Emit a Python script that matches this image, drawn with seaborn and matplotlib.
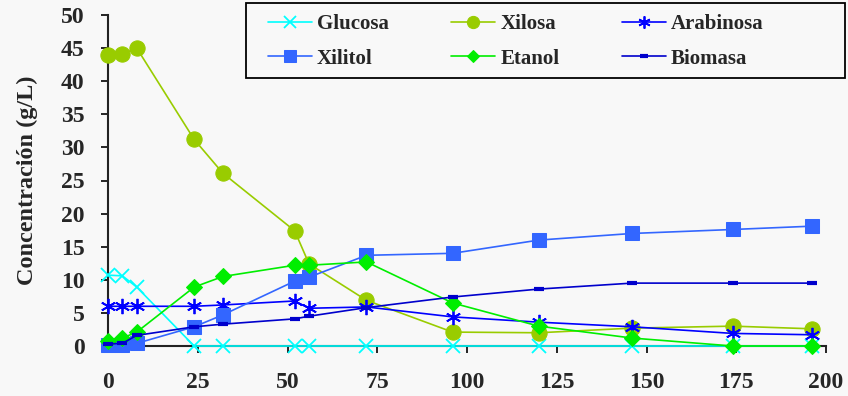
import matplotlib
matplotlib.use("Agg")
import matplotlib.pyplot as plt
from matplotlib.patches import Rectangle
import seaborn as sns
import pandas as pd

tiempo = [0, 4, 8, 24, 32, 52, 56, 72, 96, 120, 146, 174, 196]
glucosa = [10.7, 10.6, 8.9, 0, 0, 0, 0, 0, 0, 0, 0, 0, 0]
xilosa = [44.0, 44.1, 45.0, 31.2, 26.1, 17.4, 12.4, 6.9, 2.1, 2.0, 2.7, 3.0, 2.6]
arabinosa = [6.0, 6.0, 6.0, 6.0, 6.2, 6.8, 5.7, 5.9, 4.4, 3.6, 2.9, 1.9, 1.7]
xilitol = [0.2, 0.2, 0.4, 2.9, 4.7, 9.8, 10.4, 13.7, 14.0, 16.0, 17.0, 17.6, 18.1]
etanol = [0.8, 1.2, 2.1, 8.9, 10.5, 12.2, 12.2, 12.7, 6.5, 3.0, 1.2, 0.0, 0.0]
biomasa = [0.3, 0.4, 1.6, 2.9, 3.3, 4.1, 4.5, 5.8, 7.4, 8.6, 9.5, 9.5, 9.5]

x_ticks = [0, 25, 50, 75, 100, 125, 150, 175, 200]
y_ticks = [0, 5, 10, 15, 20, 25, 30, 35, 40, 45, 50]

series = [
    ("Glucosa", glucosa, "#00ffff", "x", 10),
    ("Xilosa", xilosa, "#99cc00", "o", 11),
    ("Arabinosa", arabinosa, "#0000ff", "*", 11),
    ("Xilitol", xilitol, "#3366ff", "s", 10),
    ("Etanol", etanol, "#00ee00", "D", 8),
    ("Biomasa", biomasa, "#0000cc", "_", 7),
]

sns.set_style("white")
plt.rcParams["font.family"] = ["Liberation Serif", "DejaVu Serif"]
plt.rcParams["font.weight"] = "bold"

bg = "#f8f8f8"
fig = plt.figure(figsize=(8.48, 3.96), dpi=100, facecolor=bg)
ax = fig.add_axes([108 / 848, 1 - 346 / 396, (826 - 108) / 848, (346 - 15) / 396])
ax.set_facecolor(bg)

for name, vals, col, mk, ms in series:
    df = pd.DataFrame({"t": tiempo, "v": vals})
    kw = dict(marker=mk, markersize=ms, markeredgecolor=col, markerfacecolor=col)
    if mk == "x":
        kw.update(markeredgewidth=1.3)
    if mk == "*":
        kw.update(marker=(6, 2, 0), markeredgewidth=1.3)
    if mk == "_":
        kw.update(markeredgewidth=3)
    sns.lineplot(data=df, x="t", y="v", ax=ax, color=col, linewidth=1.2,
                 label=name, clip_on=False, zorder=3, **kw)

ax.set_xlim(0, 200)
ax.set_ylim(0, 50)
ax.set_xticks(x_ticks)
ax.set_yticks(y_ticks)
ax.set_xticklabels([str(v) for v in x_ticks], fontsize=17, fontweight="bold")
ax.set_yticklabels([str(v) for v in y_ticks], fontsize=17, fontweight="bold")
ax.tick_params(axis="both", direction="out", length=5, width=1.2, color="black",
               bottom=True, left=True)
ax.tick_params(axis="x", pad=14)
ax.tick_params(axis="y", pad=12)
for s in ["top", "right"]:
    ax.spines[s].set_visible(False)
for s in ["left", "bottom"]:
    ax.spines[s].set_color("#222222")
    ax.spines[s].set_linewidth(1.5)
ax.set_xlabel("")
ax.set_ylabel("Concentración (g/L)", fontsize=17.5, fontweight="bold", labelpad=16)

handles, labels = ax.get_legend_handles_labels()
if ax.legend_:
    ax.legend_.remove()
order = [0, 3, 1, 4, 2, 5]
leg = fig.legend([handles[i] for i in order], [labels[i] for i in order], ncol=3,
                 loc="upper left", bbox_to_anchor=(268 / 848, 1 - 14 / 396),
                 frameon=False, prop={"size": 15, "weight": "bold"},
                 handlelength=2.1, handletextpad=0.25, borderaxespad=0, borderpad=0,
                 labelspacing=0.7, columnspacing=3.0, markerscale=0.8)
fig.patches.append(Rectangle((246 / 848, 1 - 78 / 396), (845 - 246) / 848, 75 / 396,
                             transform=fig.transFigure, facecolor=bg,
                             edgecolor="black", linewidth=1.3, zorder=0))

fig.savefig("out.png", dpi=100, facecolor=bg)
